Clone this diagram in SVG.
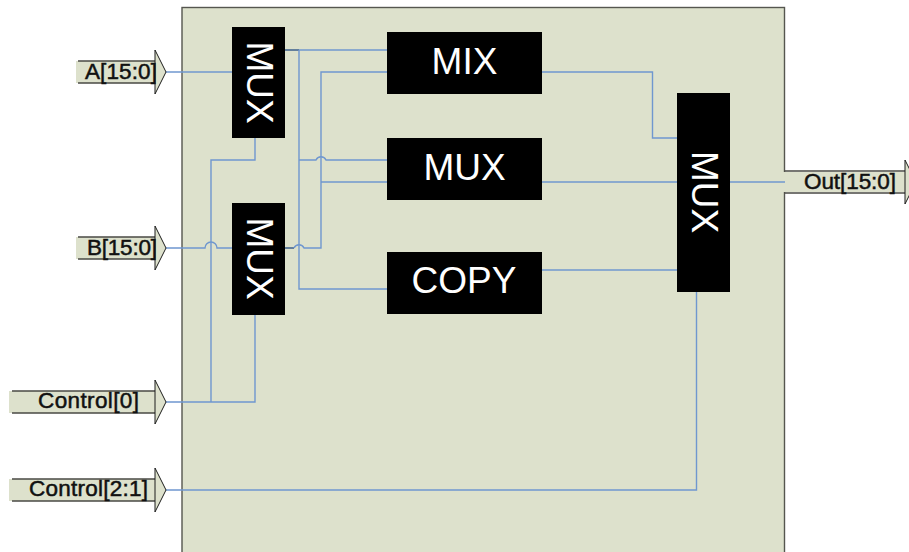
<svg xmlns="http://www.w3.org/2000/svg" width="909" height="552" viewBox="0 0 909 552">
<style>
.arrow{fill:#dde1cc}
.edge{fill:none;stroke:#4a4a44;stroke-width:1.6}
.head{fill:#dde1cc;stroke:#1c1c1c;stroke-width:1}
.lbl{font-family:"Liberation Sans",Arial,sans-serif;font-size:22.500px;fill:#111;stroke:#111;stroke-width:.5;text-anchor:middle}
.blk{fill:#000}
.blk-t{font-family:"Liberation Sans",Arial,sans-serif;font-size:37px;fill:#fff;text-anchor:middle}
.w{fill:none;stroke:#6f97cf;stroke-width:1.4}
.wd{fill:none;stroke:#2f5587;stroke-width:1.4}
</style>
<defs>
<g id="inHead"><path class="head" d="M0,-22 L11,0 L0,22 L0,11 L0,-11 Z"/></g>
</defs>
<g id="panel">
<rect x="182" y="7.5" width="602.5" height="550" fill="#dde1cc" stroke="#55564f" stroke-width="1.4"/>
</g>
<g id="port-out">
<rect class="arrow" x="783" y="172" width="122" height="20"/>
<path class="edge" d="M784.5,171 H905 M784.5,193 H905"/>
<path class="head" d="M905,160 L916,182 L905,204 Z"/>
<text class="lbl" x="850" y="188.500" textLength="92" lengthAdjust="spacing">Out[15:0]</text>
</g>
<g id="connectors">
<path class="w" d="M166,72 H232"/>
<path class="w" d="M166,248 H205 A6,6 0 0 1 217,248 H232"/>
<path class="w" d="M166,402 H255 V315"/>
<path class="w" d="M211,402 V160 H255 V138"/>
<path class="w" d="M166,490 H696.500 V292"/>
<path class="wd" d="M276,50 H299"/>
<path class="w" d="M299,50 H387"/>
<path class="w" d="M299,50 V289 H387"/>
<path class="wd" d="M276,248 H294"/>
<path class="w" d="M294,248 A5.500,5.500 0 0 1 304,248 H321 V72 H387"/>
<path class="w" d="M299,160 H316 A5.500,5.500 0 0 1 326,160 H387"/>
<path class="w" d="M321,182 H387"/>
<path class="w" d="M542,72 H652.500 V138 H677"/>
<path class="w" d="M542,182 H677"/>
<path class="w" d="M542,270 H677"/>
<path class="w" d="M730,182 H785"/>
</g>
<g id="port-a">
<rect class="arrow" x="76" y="61" width="79" height="22"/>
<path class="edge" d="M78,61 H155 M78,83 H155"/>
<use href="#inHead" x="155" y="72"/>
<text class="lbl" x="121" y="78.500" textLength="72" lengthAdjust="spacing">A[15:0]</text>
</g>
<g id="port-b">
<rect class="arrow" x="76" y="237" width="79" height="22"/>
<path class="edge" d="M78,237 H155 M78,259 H155"/>
<use href="#inHead" x="155" y="248"/>
<text class="lbl" x="122" y="254.500" textLength="70" lengthAdjust="spacing">B[15:0]</text>
</g>
<g id="port-control0">
<rect class="arrow" x="9" y="391" width="146" height="22"/>
<path class="edge" d="M12,391 H155 M12,413 H155"/>
<use href="#inHead" x="155" y="402"/>
<text class="lbl" x="88.500" y="407.500" textLength="101" lengthAdjust="spacing">Control[0]</text>
</g>
<g id="port-control21">
<rect class="arrow" x="9" y="479" width="146" height="22"/>
<path class="edge" d="M12,479 H155 M12,501 H155"/>
<use href="#inHead" x="155" y="490"/>
<text class="lbl" x="88.500" y="495.500" textLength="119" lengthAdjust="spacing">Control[2:1]</text>
</g>
<g id="mux-a">
<rect class="blk" x="232" y="27" width="53" height="111"/>
<text class="blk-t" transform="translate(247,82.500) rotate(90)">MUX</text>
</g>
<g id="mux-b">
<rect class="blk" x="232" y="203" width="53" height="112"/>
<text class="blk-t" transform="translate(247,258.500) rotate(90)">MUX</text>
</g>
<g id="mix">
<rect class="blk" x="387" y="32" width="155" height="62"/>
<text class="blk-t" x="464.500" y="74">MIX</text>
</g>
<g id="mux-mid">
<rect class="blk" x="387" y="138" width="155" height="62"/>
<text class="blk-t" x="464.500" y="179.500">MUX</text>
</g>
<g id="copy">
<rect class="blk" x="387" y="252" width="155" height="62"/>
<text class="blk-t" x="464" y="293">COPY</text>
</g>
<g id="mux-out">
<rect class="blk" x="677" y="93" width="53" height="199"/>
<text class="blk-t" transform="translate(692,192) rotate(90)">MUX</text>
</g>
</svg>
